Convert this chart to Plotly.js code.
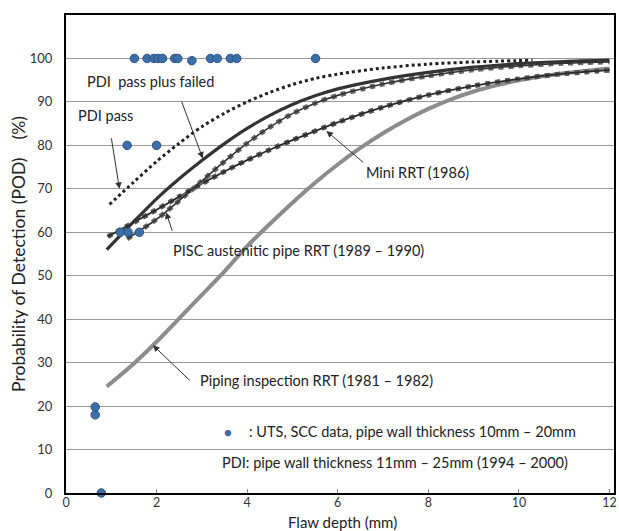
<!DOCTYPE html>
<html><head><meta charset="utf-8">
<script src="https://cdn.plot.ly/plotly-3.0.1.min.js"></script>
<style>html,body{margin:0;padding:0;background:#fff}</style>
</head><body><div id="chart" style="width:619px;height:531px"></div>
<script>
// PDI pass (dotted)
var pdiPassX = [0.96, 1.5, 2.0, 2.5, 3.0, 3.5, 4.0, 4.5, 5.0, 5.5, 6.0, 7.0, 8.0, 9.0, 10.3];
var pdiPassY = [66.4, 71.6, 76.3, 80.5, 84.3, 87.4, 90.0, 92.2, 94.0, 95.4, 96.4, 97.8, 98.7, 99.2, 99.6];
// PDI pass plus failed (solid)
var pdiFailX = [0.9, 1.5, 2.0, 2.5, 3.0, 3.5, 4.0, 4.5, 5.0, 5.5, 6.0, 7.0, 8.0, 9.0, 10.0, 11.0, 12.0];
var pdiFailY = [56.0, 62.5, 67.7, 72.3, 76.5, 80.4, 83.9, 86.9, 89.4, 91.4, 93.0, 95.2, 96.8, 98.0, 98.8, 99.3, 99.6];
// PISC austenitic pipe RRT (1989-1990)
var piscX = [1.35, 2.0, 2.5, 3.0, 3.5, 4.0, 4.5, 5.0, 5.5, 6.0, 7.0, 8.0, 9.0, 10.0, 11.0, 12.0];
var piscY = [58.5, 63.0, 67.3, 71.8, 76.3, 80.5, 84.2, 87.3, 89.7, 91.5, 94.1, 96.0, 97.4, 98.3, 98.9, 99.2];
// Mini RRT (1986)
var miniX = [0.92, 1.5, 2.0, 2.5, 3.0, 3.5, 4.0, 4.5, 5.0, 6.0, 7.0, 8.0, 9.0, 10.0, 11.0, 12.0];
var miniY = [59.0, 62.3, 65.2, 68.2, 71.2, 74.0, 76.6, 79.0, 81.2, 85.3, 88.8, 91.6, 93.7, 95.3, 96.5, 97.3];
// Piping inspection RRT (1981-1982)
var pipingX = [0.9, 1.5, 2.0, 2.5, 3.0, 3.5, 4.0, 4.5, 5.0, 5.5, 6.0, 6.5, 7.0, 7.5, 8.0, 8.5, 9.0, 9.5, 10.0, 11.0, 12.0];
var pipingY = [24.5, 29.8, 34.8, 40.2, 45.6, 51.0, 56.8, 61.9, 66.8, 71.4, 75.6, 79.4, 82.8, 85.8, 88.4, 90.6, 92.4, 93.8, 95.0, 96.6, 97.7];
// UTS, SCC data points
var utsX = [1.51, 1.79, 1.94, 2.03, 2.13, 2.40, 2.47, 2.78, 3.19, 3.34, 3.63, 3.77, 5.51, 1.35, 2.0, 1.20, 1.37, 1.62, 0.645, 0.645, 0.78];
var utsY = [100, 100, 100, 100, 100, 100, 100, 99.5, 100, 100, 100, 100, 100, 80, 80, 60, 60, 60, 19.8, 18.0, 0];
var yTicks = [0, 10, 20, 30, 40, 50, 60, 70, 80, 90, 100];
var xTicks = [0, 2, 4, 6, 8, 10, 12];

var FONT = 'Lato, "Open Sans", sans-serif';
var traces = [
  {x: pipingX, y: pipingY, mode: 'lines', line: {color: '#8c8c8c', width: 4, shape: 'spline', smoothing: 0.8}, hoverinfo: 'skip'},
  {x: miniX, y: miniY, mode: 'lines', line: {color: '#555', width: 5, dash: 'dot', shape: 'spline', smoothing: 0.8}, hoverinfo: 'skip'},
  {x: miniX, y: miniY, mode: 'lines', line: {color: '#2a2a2a', width: 1.8, shape: 'spline', smoothing: 0.8}, hoverinfo: 'skip'},
  {x: piscX, y: piscY, mode: 'lines', line: {color: '#666', width: 5, dash: 'dot', shape: 'spline', smoothing: 0.8}, hoverinfo: 'skip'},
  {x: piscX, y: piscY, mode: 'lines', line: {color: '#333', width: 1.6, shape: 'spline', smoothing: 0.8}, hoverinfo: 'skip'},
  {x: pdiFailX, y: pdiFailY, mode: 'lines', line: {color: '#333', width: 3.2, shape: 'spline', smoothing: 0.8}, hoverinfo: 'skip'},
  {x: pdiPassX, y: pdiPassY, mode: 'lines', line: {color: '#222', width: 3, dash: 'dot', shape: 'spline', smoothing: 0.8}, hoverinfo: 'skip'},
  {x: utsX, y: utsY, mode: 'markers', marker: {color: '#3c6ea8', size: 8.5, line: {color: '#2c5585', width: 1}}, cliponaxis: false, hoverinfo: 'skip'}
];

function arrow(x, y, ax, ay) {
  return {x: x, y: y, xref: 'x', yref: 'y', text: '', showarrow: true, ax: ax, ay: ay,
    arrowhead: 2, arrowsize: 1.3, arrowwidth: 1, arrowcolor: '#333'};
}
function label(x, y, t, anchor) {
  return {x: x, y: y, xref: 'x', yref: 'y', text: t, showarrow: false, xanchor: anchor || 'center', yanchor: 'middle',
    font: {family: FONT, size: 14.5, color: '#222'}};
}

var layout = {
  width: 619, height: 531,
  margin: {l: 66, r: 5, t: 15, b: 38},
  paper_bgcolor: '#fff', plot_bgcolor: '#fff',
  showlegend: false,
  font: {family: FONT, color: '#333'},
  xaxis: {
    range: [0, 12.1], tickvals: xTicks, ticktext: xTicks.map(String),
    showgrid: false, zeroline: false,
    showline: true, linecolor: '#000', linewidth: 2, mirror: true,
    ticks: 'inside', ticklen: 4, tickcolor: '#888', tickfont: {family: FONT, size: 12.5, color: '#333'},
    ticklabelstandoff: -3
  },
  yaxis: {
    range: [0, 110], tickvals: yTicks, ticktext: yTicks.map(String),
    showgrid: true, gridcolor: '#999', gridwidth: 1, zeroline: false,
    showline: true, linecolor: '#000', linewidth: 2, mirror: true,
    ticks: '', tickfont: {family: FONT, size: 13, color: '#333'}, ticklabelstandoff: 9,
    title: {text: 'Probability of Detection (POD)\u3000(%)', font: {family: FONT, size: 17.5, color: '#222'}, standoff: 0}
  },
  annotations: [
    {x: 0.505, y: 0, xref: 'paper', yref: 'paper', yanchor: 'top', yshift: -18, showarrow: false,
      text: 'Flaw depth (mm)', font: {family: FONT, size: 15, color: '#222'}},
    label(1.87, 94.7, 'PDI&nbsp;&nbsp;pass plus failed'),
    arrow(3.02, 77.0, -21.6, -58),
    label(0.87, 86.9, 'PDI pass'),
    arrow(1.18, 70.0, -8.3, -52),
    label(7.77, 73.7, 'Mini RRT (1986)'),
    arrow(5.75, 83.3, 38.3, 32.6),
    label(5.14, 55.8, 'PISC austenitic pipe RRT (1989 \u2013 1990)'),
    arrow(2.21, 64.6, 6.6, 20),
    label(5.54, 25.8, 'Piping inspection RRT (1981 \u2013 1982)'),
    arrow(1.92, 34.0, 38.4, 36.7),
    {x: 3.57, y: 14.05, xref: 'x', yref: 'y', text: '\u25CF', showarrow: false, font: {size: 13, color: '#3c6ea8'}},
    label(4.0, 14.05, ': UTS, SCC data, pipe wall thickness 10mm \u2013 20mm', 'left'),
    label(3.39, 7.1, 'PDI: pipe wall thickness 11mm \u2013 25mm (1994 \u2013 2000)', 'left')
  ]
};
Plotly.newPlot('chart', traces, layout, {displayModeBar: false, staticPlot: true});
</script></body></html>
